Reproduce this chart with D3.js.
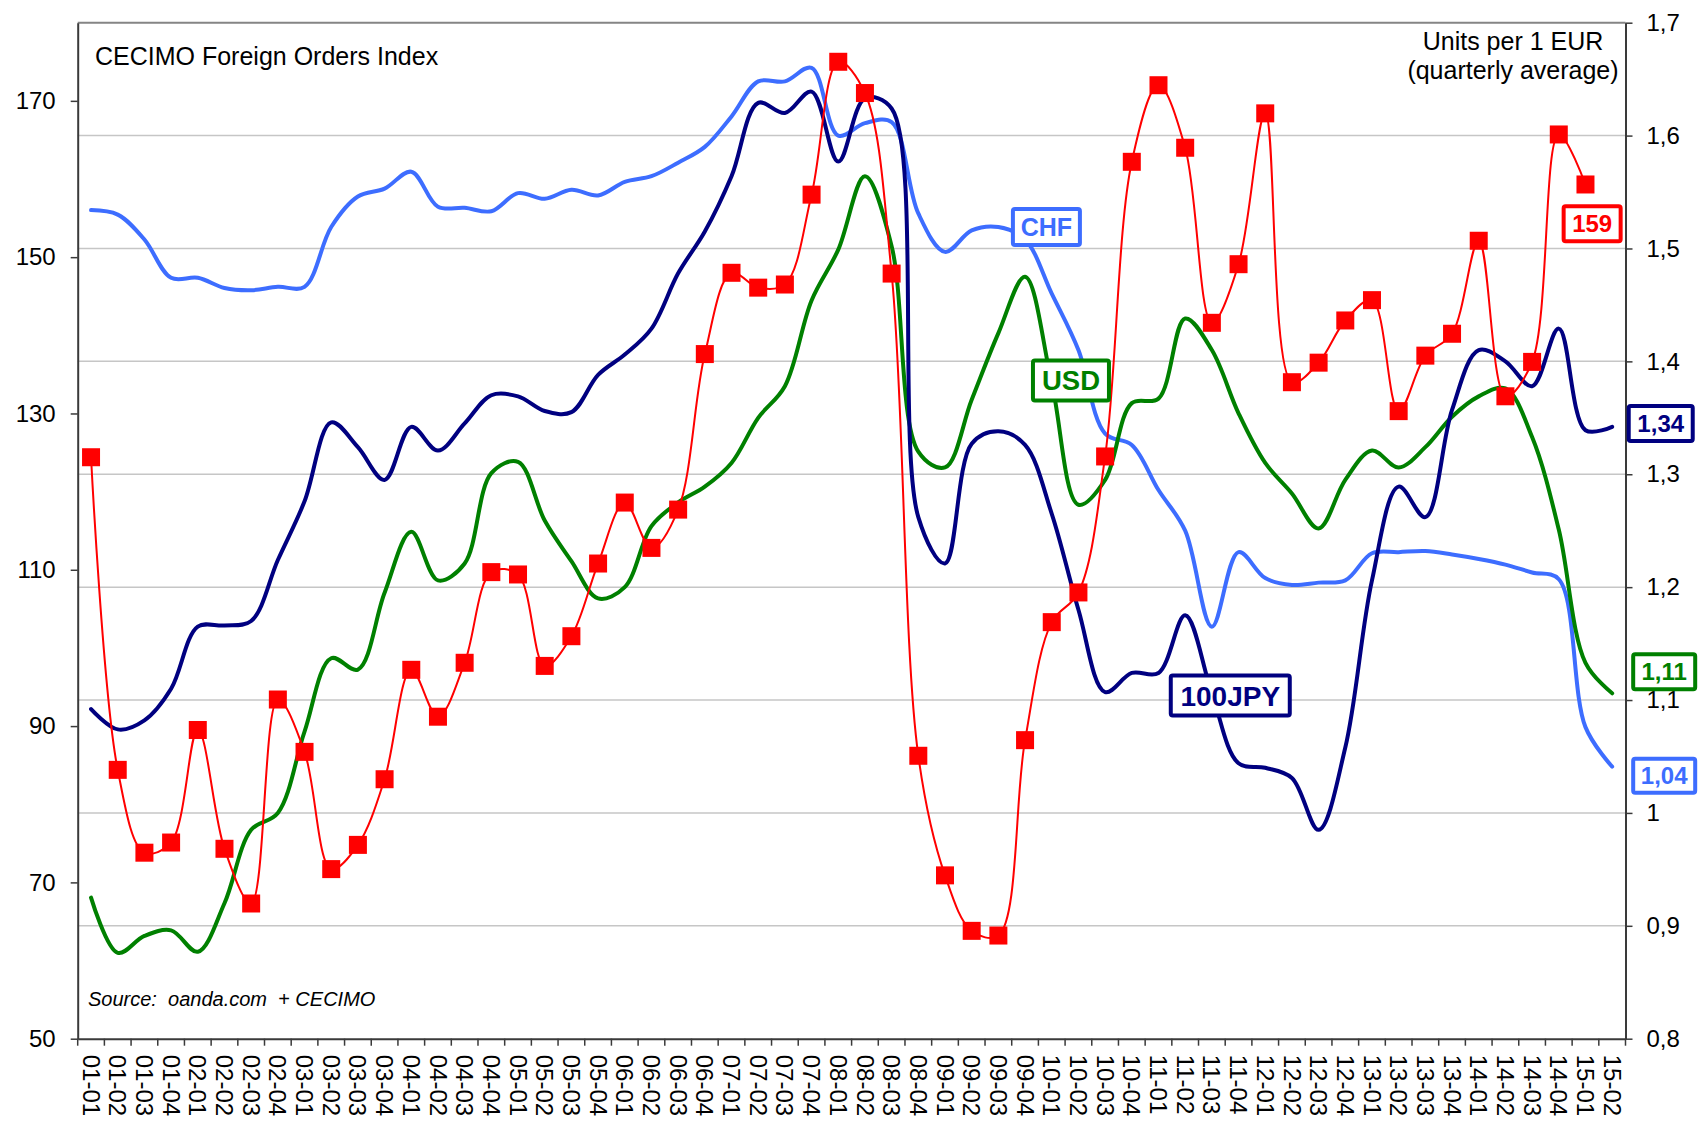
<!DOCTYPE html>
<html lang="en">
<head>
<meta charset="UTF-8">
<title>CECIMO Foreign Orders Index</title>
<script src="https://d3js.org/d3.v7.min.js"></script>
<style>
    body { margin: 0; background: #fff; }
    svg { display: block; font-family: "Liberation Sans", Arial, sans-serif; }
</style>
</head>
<body>
<script>

    // quarters, 2001 Q1 .. 2015 Q2
    var quarters = [
        '01-01','01-02','01-03','01-04','02-01','02-02','02-03','02-04',
        '03-01','03-02','03-03','03-04','04-01','04-02','04-03','04-04',
        '05-01','05-02','05-03','05-04','06-01','06-02','06-03','06-04',
        '07-01','07-02','07-03','07-04','08-01','08-02','08-03','08-04',
        '09-01','09-02','09-03','09-04','10-01','10-02','10-03','10-04',
        '11-01','11-02','11-03','11-04','12-01','12-02','12-03','12-04',
        '13-01','13-02','13-03','13-04','14-01','14-02','14-03','14-04',
        '15-01','15-02'
    ];

    // CECIMO foreign orders index (left axis), ends at 15-01
    var orders = [
        124.4, 84.4, 73.8, 75.1, 89.5, 74.3, 67.3, 93.4, 86.7, 71.7,
        74.8, 83.2, 97.2, 91.2, 98.1, 109.7, 109.4, 97.7, 101.5, 110.8,
        118.6, 112.8, 117.7, 137.6, 148.0, 146.1, 146.5, 158.0, 175.0, 171.0,
        147.9, 86.2, 70.9, 63.8, 63.2, 88.2, 103.3, 107.1, 124.5, 162.2,
        172.0, 164.0, 141.6, 149.1, 168.4, 134.0, 136.5, 141.9, 144.5, 130.3,
        137.4, 140.2, 152.1, 132.2, 136.6, 165.7, 159.3
    ];

    // units per 1 EUR (right axis)
    var chf = [
        1.534, 1.530, 1.508, 1.474, 1.474, 1.465, 1.463, 1.466, 1.466, 1.519,
        1.546, 1.553, 1.568, 1.537, 1.536, 1.533, 1.549, 1.544, 1.552, 1.547,
        1.559, 1.564, 1.576, 1.590, 1.617, 1.648, 1.648, 1.660, 1.600, 1.611,
        1.612, 1.531, 1.497, 1.516, 1.519, 1.508, 1.460, 1.410, 1.336, 1.326,
        1.286, 1.250, 1.165, 1.231, 1.208, 1.202, 1.204, 1.206, 1.230, 1.231,
        1.232, 1.229, 1.225, 1.220, 1.213, 1.207, 1.076, 1.041
    ];
    var usd = [
        0.925, 0.876, 0.891, 0.896, 0.877, 0.920, 0.985, 1.000, 1.072, 1.137,
        1.127, 1.195, 1.249, 1.206, 1.221, 1.301, 1.311, 1.259, 1.223, 1.190,
        1.200, 1.254, 1.275, 1.289, 1.310, 1.350, 1.378, 1.454, 1.499, 1.564,
        1.502, 1.320, 1.306, 1.366, 1.425, 1.475, 1.381, 1.273, 1.295, 1.363,
        1.367, 1.438, 1.410, 1.354, 1.310, 1.283, 1.252, 1.295, 1.321, 1.306,
        1.324, 1.351, 1.369, 1.376, 1.333, 1.251, 1.133, 1.106
    ];
    var jpy100 = [
        1.092, 1.074, 1.082, 1.110, 1.165, 1.166, 1.170, 1.224, 1.276, 1.346,
        1.324, 1.295, 1.342, 1.321, 1.345, 1.370, 1.369, 1.356, 1.355, 1.388,
        1.406, 1.429, 1.478, 1.515, 1.564, 1.629, 1.620, 1.639, 1.577, 1.633,
        1.624, 1.262, 1.221, 1.327, 1.338, 1.326, 1.265, 1.180, 1.107, 1.124,
        1.124, 1.175, 1.106, 1.044, 1.040, 1.031, 0.985, 1.058, 1.206, 1.289,
        1.262, 1.357, 1.410, 1.400, 1.378, 1.429, 1.339, 1.342
    ];

    var leftTicks = [50, 70, 90, 110, 130, 150, 170];
    var rightTicks = [0.8, 0.9, 1.0, 1.1, 1.2, 1.3, 1.4, 1.5, 1.6, 1.7];

    var red = '#ff0000', green = '#008000', navy = '#000080', blue = '#3d6dff';

    // boxed labels: position given as (fractional quarter index, value on right axis)
    var tags = [
        { text: 'CHF',    color: blue,  at: 35.80, v: 1.519, w: 71,  h: 40, fs: 25 },
        { text: 'USD',    color: green, at: 36.72, v: 1.383, w: 80,  h: 44, fs: 27.5 },
        { text: '100JPY', color: navy,  at: 42.69, v: 1.104, w: 123, h: 44, fs: 28 },
        { text: '159',    color: red,   at: 56.25, v: 1.522, w: 61,  h: 39, fs: 24 },
        { text: '1,34',   color: navy,  at: 58.82, v: 1.345, w: 68,  h: 39, fs: 24 },
        { text: '1,11',   color: green, at: 58.95, v: 1.125, w: 66,  h: 39, fs: 24 },
        { text: '1,04',   color: blue,  at: 58.95, v: 1.033, w: 66,  h: 38, fs: 24 }
    ];

    var W = 1698, H = 1121;
    var L = 77.7, R = 1625.5, T = 22.7, B = 1038.7;

    var svg = d3.select('body').append('svg')
        .attr('width', W)
        .attr('height', H);

    var x = d3.scaleBand().domain(quarters).range([L, R]);
    var yL = d3.scaleLinear().domain([50, 180]).range([B, T]);
    var yR = d3.scaleLinear().domain([0.8, 1.7]).range([B, T]);
    var bw = x.bandwidth();
    var px = function(f) { return x(quarters[0]) + bw * (f + 0.5); };

    // gridlines at the right axis ticks
    svg.append('g').selectAll('line')
        .data(rightTicks.filter(function(t) { return t > 0.85 && t < 1.65; }))
        .enter().append('line')
            .attr('x1', L).attr('x2', R)
            .attr('y1', function(d) { return yR(d); })
            .attr('y2', function(d) { return yR(d); })
            .attr('stroke', '#c6c6c6')
            .attr('stroke-width', 1.5);

    // top frame
    svg.append('line')
        .attr('x1', L).attr('x2', R).attr('y1', T).attr('y2', T)
        .attr('stroke', '#858585').attr('stroke-width', 2);

    // text inside plot
    svg.append('text')
        .attr('x', 95).attr('y', 65)
        .attr('font-size', 25)
        .text('CECIMO Foreign Orders Index');

    var unitText = svg.append('text')
        .attr('font-size', 25)
        .attr('text-anchor', 'middle');
    unitText.append('tspan').attr('x', 1513).attr('y', 50).text('Units per 1 EUR');
    unitText.append('tspan').attr('x', 1513).attr('y', 79).text('(quarterly average)');

    svg.append('text')
        .attr('x', 88).attr('y', 1006)
        .attr('font-size', 20)
        .attr('font-style', 'italic')
        .style('white-space', 'pre')
        .text('Source:  oanda.com  + CECIMO');

    // currency lines
    var rateLine = d3.line()
        .x(function(d, i) { return px(i); })
        .y(function(d) { return yR(d); })
        .curve(d3.curveCatmullRom.alpha(0.5));

    [[chf, blue], [usd, green], [jpy100, navy]].forEach(function(s) {
        svg.append('path')
            .datum(s[0])
            .attr('d', rateLine)
            .attr('fill', 'none')
            .attr('stroke', s[1])
            .attr('stroke-width', 4)
            .attr('stroke-linecap', 'round')
            .attr('stroke-linejoin', 'round');
    });

    // orders index
    var orderLine = d3.line()
        .x(function(d, i) { return px(i); })
        .y(function(d) { return yL(d); })
        .curve(d3.curveCatmullRom.alpha(0.5));

    svg.append('path')
        .datum(orders)
        .attr('d', orderLine)
        .attr('fill', 'none')
        .attr('stroke', red)
        .attr('stroke-width', 2);

    svg.append('g').selectAll('rect')
        .data(orders)
        .enter().append('rect')
            .attr('x', function(d, i) { return px(i) - 9; })
            .attr('y', function(d) { return yL(d) - 9; })
            .attr('width', 18)
            .attr('height', 18)
            .attr('fill', red);

    // axes
    var styleAxis = function(g) {
        g.attr('font-family', null).attr('font-size', 24);
        g.select('.domain').attr('stroke', '#3a3a3a').attr('stroke-width', 2);
        g.selectAll('.tick line').attr('stroke', '#3a3a3a').attr('stroke-width', 1.5);
        g.selectAll('.tick text').attr('fill', '#000');
    };

    svg.append('g')
        .attr('transform', 'translate(' + L + ',0)')
        .call(d3.axisLeft(yL).tickValues(leftTicks).tickSize(7).tickSizeOuter(0).tickPadding(15))
        .call(styleAxis);

    svg.append('g')
        .attr('transform', 'translate(' + R + ',0)')
        .call(d3.axisRight(yR).tickValues(rightTicks).tickSize(7).tickSizeOuter(0).tickPadding(14)
            .tickFormat(function(d) { return d === 1 ? '1' : d3.format('.1f')(d).replace('.', ','); }))
        .call(styleAxis);

    var xAxis = svg.append('g')
        .attr('transform', 'translate(0,' + B + ')')
        .call(d3.axisBottom(x).tickSize(0).tickSizeOuter(0))
        .call(styleAxis);

    xAxis.selectAll('.tick text')
        .attr('x', 16)
        .attr('y', 0)
        .attr('dy', '0.35em')
        .attr('transform', 'rotate(90)')
        .style('text-anchor', 'start');

    // ticks on the quarter boundaries
    xAxis.append('g').selectAll('line')
        .data(quarters.map(function(q) { return x(q); }).concat([R]))
        .enter().append('line')
            .attr('x1', function(d) { return d; })
            .attr('x2', function(d) { return d; })
            .attr('y1', 0).attr('y2', 7)
            .attr('stroke', '#3a3a3a')
            .attr('stroke-width', 1.5);

    // boxed labels
    var tag = svg.append('g').selectAll('g')
        .data(tags)
        .enter().append('g')
            .attr('transform', function(d) { return 'translate(' + px(d.at) + ',' + yR(d.v) + ')'; });

    tag.append('rect')
        .attr('x', function(d) { return -d.w / 2 + 2; })
        .attr('y', function(d) { return -d.h / 2 + 2; })
        .attr('width', function(d) { return d.w - 4; })
        .attr('height', function(d) { return d.h - 4; })
        .attr('rx', 2)
        .attr('fill', '#fff')
        .attr('stroke', function(d) { return d.color; })
        .attr('stroke-width', 4);

    tag.append('text')
        .attr('text-anchor', 'middle')
        .attr('dy', '0.36em')
        .attr('font-weight', 'bold')
        .attr('font-size', function(d) { return d.fs; })
        .attr('fill', function(d) { return d.color; })
        .text(function(d) { return d.text; });

</script>
</body>
</html>
